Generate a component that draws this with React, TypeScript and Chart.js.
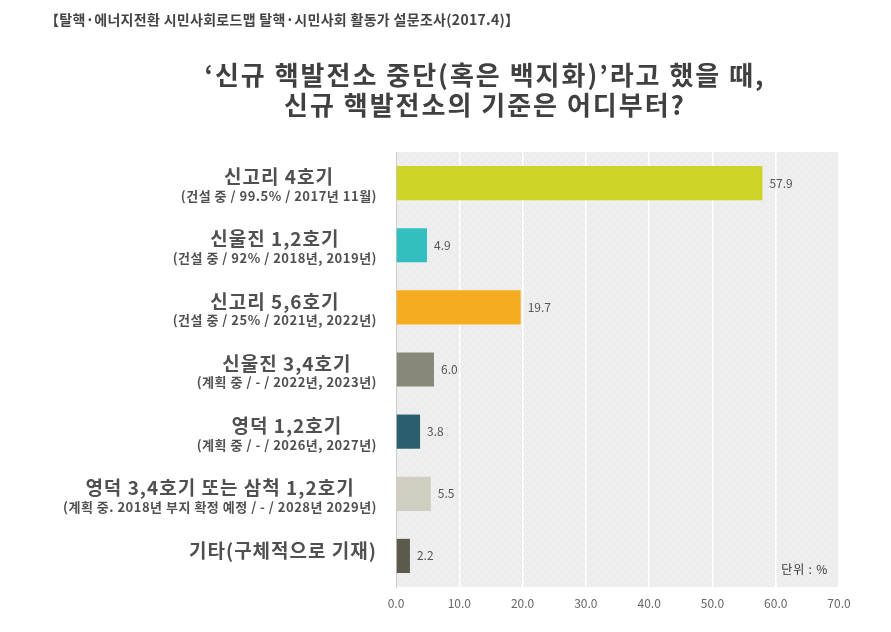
import React, { useEffect, useRef } from "react";
import { Chart, registerables } from "chart.js";

Chart.register(...registerables);

const headerText = "【탈핵·에너지전환 시민사회로드맵 탈핵·시민사회 활동가 설문조사(2017.4)】";
const titleLines = ["‘신규 핵발전소 중단(혹은 백지화)’라고 했을 때,", "신규 핵발전소의 기준은 어디부터?"];
const categories = ["신고리 4호기", "신울진 1,2호기", "신고리 5,6호기", "신울진 3,4호기", "영덕 1,2호기", "영덕 3,4호기 또는 삼척 1,2호기", "기타(구체적으로 기재)"];
const subLabels = [
  "(건설 중 / 99.5% / 2017년 11월)",
  "(건설 중 / 92% / 2018년, 2019년)",
  "(건설 중 / 25% / 2021년, 2022년)",
  "(계획 중 / - / 2022년, 2023년)",
  "(계획 중 / - / 2026년, 2027년)",
  "(계획 중. 2018년 부지 확정 예정 / - / 2028년 2029년)",
  "",
];
const values = [57.9, 4.9, 19.7, 6.0, 3.8, 5.5, 2.2];
const barColors = ["#CED427", "#33BFC0", "#F5AD1F", "#87877A", "#2B5F6E", "#D0CEC0", "#5C5A4A"];
const unitText = "단위 : %";

const FONT = "'Noto Sans CJK KR', 'Noto Sans', sans-serif";

function makePattern(ctx: CanvasRenderingContext2D) {
  const c = document.createElement("canvas");
  c.width = 8;
  c.height = 8;
  const p = c.getContext("2d")!;
  p.fillStyle = "#ececec";
  p.fillRect(0, 0, 8, 8);
  p.fillStyle = "#f9f9f9";
  const dots = [[1, 0], [5, 1], [3, 3], [7, 4], [0, 5], [4, 6], [2, 7], [6, 2]];
  dots.forEach(([x, y]) => p.fillRect(x, y, 1, 1));
  return ctx.createPattern(c, "repeat");
}

function setLS(ctx: any, v: string) {
  if ("letterSpacing" in ctx) ctx.letterSpacing = v;
}

const decorPlugin = {
  id: "decor",
  beforeDraw(chart: any) {
    const { ctx, chartArea } = chart;
    ctx.save();
    ctx.fillStyle = "#ffffff";
    ctx.fillRect(0, 0, chart.width, chart.height);
    ctx.fillStyle = makePattern(ctx) || "#eeeeee";
    ctx.fillRect(chartArea.left, chartArea.top, chartArea.right - chartArea.left, chartArea.bottom - chartArea.top);
    ctx.restore();
  },
  afterDraw(chart: any) {
    const { ctx, chartArea } = chart;
    ctx.save();
    // header
    ctx.fillStyle = "#444444";
    ctx.font = `bold 14px ${FONT}`;
    setLS(ctx, "0.3px");
    ctx.textAlign = "left";
    ctx.textBaseline = "middle";
    ctx.fillText(headerText, 45, 20);
    // title
    ctx.fillStyle = "#404040";
    ctx.font = `bold 26px ${FONT}`;
    setLS(ctx, "2px");
    ctx.textAlign = "center";
    ctx.fillText(titleLines[0], 485, 75);
    ctx.fillText(titleLines[1], 485, 105);
    // y labels
    const yScale = chart.scales.y;
    const right = 377;
    categories.forEach((cat, i) => {
      const y = yScale.getPixelForValue(i);
      setLS(ctx, "1px");
      ctx.font = `bold 19px ${FONT}`;
      const wMain = ctx.measureText(cat).width;
      let wSub = 0;
      const sub = subLabels[i];
      if (sub) {
        setLS(ctx, "0.5px");
        ctx.font = `bold 13px ${FONT}`;
        wSub = ctx.measureText(sub).width;
      }
      const bw = Math.max(wMain, wSub);
      const cx = right - bw / 2;
      ctx.fillStyle = "#505050";
      ctx.textAlign = "center";
      ctx.textBaseline = "middle";
      setLS(ctx, "1px");
      ctx.font = `bold 19px ${FONT}`;
      ctx.fillText(cat, cx, sub ? y - 6 : y - 5);
      if (sub) {
        setLS(ctx, "0.5px");
        ctx.font = `bold 13px ${FONT}`;
        ctx.fillText(sub, cx, y + 13);
      }
    });
    setLS(ctx, "0px");
    // value labels
    const meta = chart.getDatasetMeta(0);
    ctx.font = `12px ${FONT}`;
    ctx.fillStyle = "#555555";
    ctx.textAlign = "left";
    ctx.textBaseline = "middle";
    meta.data.forEach((bar: any, i: number) => {
      ctx.fillText(values[i].toFixed(1), bar.x + 7, bar.y);
    });
    // unit
    ctx.fillStyle = "#333333";
    ctx.font = `12px ${FONT}`;
    setLS(ctx, "0.8px");
    ctx.textAlign = "right";
    ctx.fillText(unitText, chartArea.right - 11, chartArea.bottom - 18);
    ctx.restore();
  },
};

export default function App() {
  const ref = useRef<HTMLCanvasElement>(null);
  useEffect(() => {
    const chart = new Chart(ref.current!, {
      type: "bar",
      data: {
        labels: categories,
        datasets: [
          {
            data: values,
            backgroundColor: barColors,
            barPercentage: 0.55,
            categoryPercentage: 1,
          },
        ],
      },
      options: {
        indexAxis: "y",
        animation: false,
        responsive: false,
        layout: { padding: { top: 152, right: 52, bottom: 0, left: 0 } },
        plugins: { legend: { display: false }, tooltip: { enabled: false } },
        scales: {
          x: {
            min: 0,
            max: 70,
            ticks: {
              stepSize: 10,
              padding: 9,
              color: "#666666",
              font: { family: FONT, size: 12 },
              callback: (v: any) => Number(v).toFixed(1),
            },
            grid: { color: "#ffffff", lineWidth: 1.5, drawTicks: false },
            border: { display: false },
            afterFit: (s: any) => {
              s.height = 45;
            },
          },
          y: {
            ticks: { display: false },
            grid: { display: false },
            border: { display: true, color: "#cccccc", width: 1 },
            afterFit: (s: any) => {
              s.width = 396;
            },
          },
        },
      },
      plugins: [decorPlugin],
    });
    return () => chart.destroy();
  }, []);
  return (
    <div style={{ position: "absolute", left: 0, top: 0, width: 891, height: 632 }}>
      <canvas ref={ref} width={891} height={632} style={{ width: 891, height: 632 }} />
    </div>
  );
}
